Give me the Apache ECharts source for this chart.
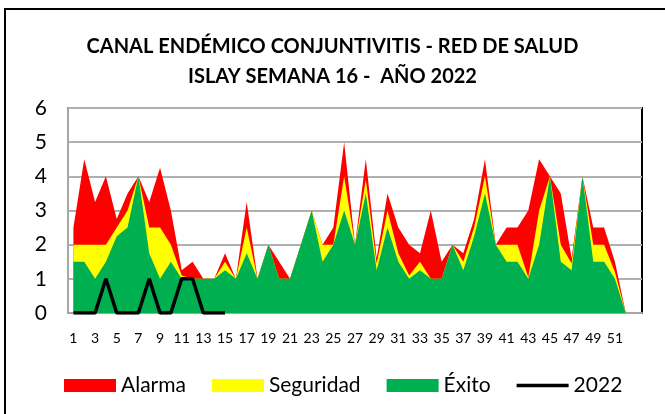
<!DOCTYPE html>
<html lang="es">
  <head>
    <meta charset="UTF-8" />
    <title>Canal endémico conjuntivitis</title>
    <script src="https://cdn.jsdelivr.net/npm/echarts@6/dist/echarts.min.js"></script>
    <style>
      html, body { margin: 0; padding: 0; background: #fff; }
      #main { width: 665px; height: 414px; }
    </style>
  </head>
  <body>
    <div id="main"></div>
    <script>
      // semanas epidemiológicas (la última categoría va vacía)
      const semanas = [
        '1', '2', '3', '4', '5', '6', '7', '8', '9', '10', '11', '12', '13',
        '14', '15', '16', '17', '18', '19', '20', '21', '22', '23', '24', '25', '26',
        '27', '28', '29', '30', '31', '32', '33', '34', '35', '36', '37', '38', '39',
        '40', '41', '42', '43', '44', '45', '46', '47', '48', '49', '50', '51', '52', ''
      ]
      // límite superior de cada zona
      const alarma = [
        2.5, 4.5, 3.25, 4, 2.75, 3.5, 4, 3.25, 4.25, 3, 1.25, 1.5, 1,
        1, 1.75, 1, 3.25, 1, 2, 1.5, 1, 2, 3, 2, 2.5, 5,
        2, 4.5, 1.6, 3.5, 2.5, 2, 1.75, 3, 1.5, 2, 1.75, 2.75, 4.5,
        2, 2.5, 2.5, 3, 4.5, 4, 3.5, 1.6, 4, 2.5, 2.5, 1.5, 0
      ]
      const seguridad = [
        2, 2, 2, 2, 2.5, 3, 4, 2.5, 2.5, 2, 1.1, 1, 1,
        1, 1.5, 1, 2.5, 1, 2, 1, 1, 2, 3, 2, 2, 4,
        2, 3.9, 1.45, 3, 1.75, 1.1, 1.5, 1, 1, 2, 1.5, 2.5, 4,
        2, 2, 2, 1.05, 3, 4, 2, 1.45, 4, 2, 2, 1.2, 0
      ]
      const exito = [
        1.5, 1.5, 1, 1.5, 2.25, 2.5, 4, 1.75, 1, 1.5, 1, 1, 1,
        1, 1.25, 1, 1.75, 1, 2, 1, 1, 2, 3, 1.5, 2, 3,
        2, 3.5, 1.25, 2.5, 1.5, 1, 1.25, 1, 1, 2, 1.25, 2.25, 3.5,
        2, 1.5, 1.5, 1, 2, 4, 1.5, 1.25, 4, 1.5, 1.5, 1, 0
      ]
      const casos2022 = [0, 0, 0, 1, 0, 0, 0, 1, 0, 0, 1, 1, 0, 0, 0]

      const font = 'Lato, "Open Sans", sans-serif'
      const chart = echarts.init(document.getElementById('main'))

      const colores = { Alarma: '#ff0000', Seguridad: '#ffff00', 'Éxito': '#00b050' }

      const zona = (name, data) => ({
        name,
        type: 'line',
        data,
        symbol: 'none',
        lineStyle: { width: 0 },
        itemStyle: { color: colores[name] },
        areaStyle: { color: colores[name], opacity: 1 },
        silent: true,
      })

      const option = {
        animation: false,
        textStyle: { fontFamily: font },
        title: {
          text: 'CANAL ENDÉMICO CONJUNTIVITIS - RED DE SALUD\nISLAY SEMANA 16 -  AÑO 2022',
          left: 'center',
          top: 27,
          textStyle: {
            fontFamily: font,
            fontSize: 20,
            fontWeight: 'bold',
            color: '#000',
            lineHeight: 30,
          },
        },
        graphic: [
          {
            type: 'rect',
            shape: { x: 5, y: 9, width: 700, height: 500 },
            style: { fill: 'none', stroke: '#000', lineWidth: 2 },
            silent: true,
          },
        ],
        grid: { left: 68, right: 23, top: 108, bottom: 101, show: true, borderColor: '#000', borderWidth: 2 },
        legend: {
          left: 59,
          top: 370,
          itemWidth: 52,
          itemHeight: 13,
          itemGap: 26,
          symbolKeepAspect: true,
          textStyle: { fontFamily: font, fontSize: 21, color: '#000' },
          data: [
            { name: 'Alarma', icon: 'rect' },
            { name: 'Seguridad', icon: 'rect' },
            { name: 'Éxito', icon: 'rect' },
            // línea fina para la serie 2022
            { name: '2022', icon: 'path://M0,0H52V3.5H0Z' },
          ],
        },
        xAxis: {
          type: 'category',
          data: semanas,
          boundaryGap: true,
          axisLine: { lineStyle: { color: '#a6a6a6', width: 2 } },
          axisTick: { show: false },
          axisLabel: { interval: 1, fontSize: 14, color: '#000', margin: 18, fontFamily: font },
        },
        yAxis: {
          type: 'value',
          min: 0,
          max: 6,
          interval: 1,
          axisLine: { show: true, lineStyle: { color: '#a6a6a6', width: 2 } },
          axisTick: { show: false },
          axisLabel: { fontSize: 21, color: '#000', margin: 21, fontFamily: font },
          splitLine: { lineStyle: { color: '#b0b0b0', width: 2 } },
        },
        series: [
          zona('Alarma', alarma),
          zona('Seguridad', seguridad),
          zona('Éxito', exito),
          {
            name: '2022',
            type: 'line',
            data: casos2022,
            symbol: 'none',
            itemStyle: { color: '#000' },
            lineStyle: { color: '#000', width: 3.5 },
            z: 5,
          },
        ],
      }

      chart.setOption(option)
    </script>
  </body>
</html>
